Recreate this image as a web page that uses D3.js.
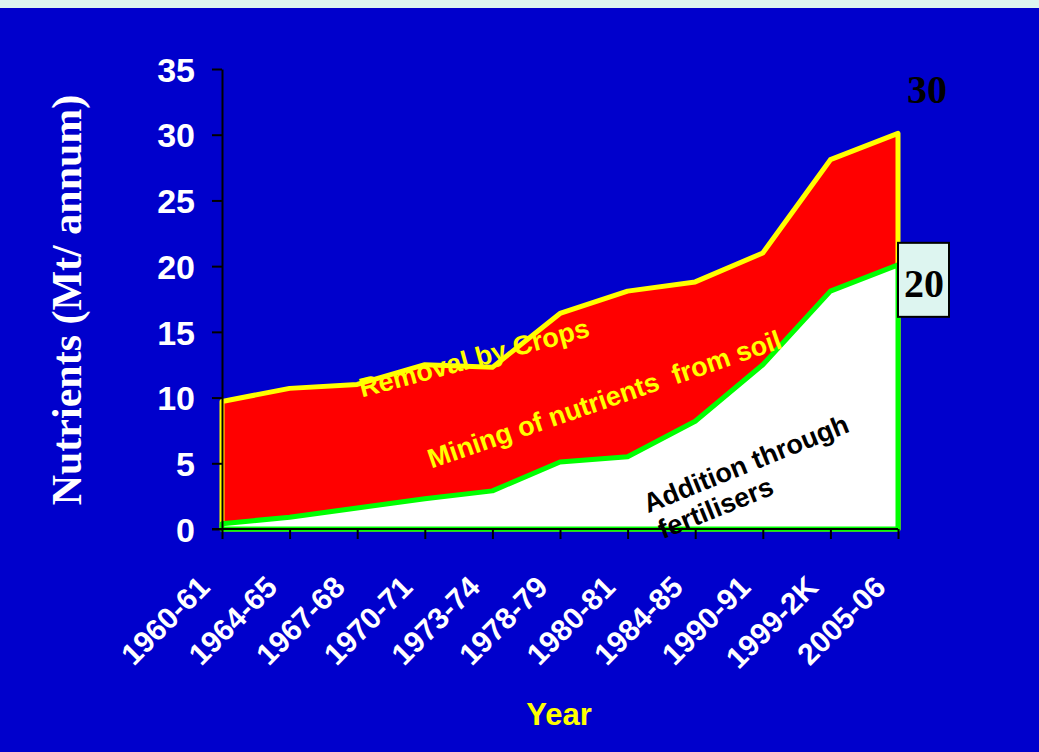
<!DOCTYPE html>
<html>
<head>
<meta charset="utf-8">
<script src="https://cdn.jsdelivr.net/npm/d3@7"></script>
<style>
  body { margin: 0; background: #0000cc; }
  svg { display: block; }
</style>
</head>
<body>
<div id="chart"></div>
<script>
// Data
const years = ["1960-61", "1964-65", "1967-68", "1970-71", "1973-74", "1978-79",
  "1980-81", "1984-85", "1990-91", "1999-2K", "2005-06"];
const removal = [9.7, 10.7, 11.0, 12.5, 12.3, 16.4, 18.1, 18.8, 21.0, 28.1, 30.1];
const fertiliser = [0.4, 0.9, 1.6, 2.3, 2.9, 5.1, 5.5, 8.2, 12.5, 18.1, 20.1];
const yTicks = [0, 5, 10, 15, 20, 25, 30, 35];

const width = 1039, height = 752;

let svg = d3.select("#chart").append("svg")
  .attr("width", width)
  .attr("height", height);

// background + light strip at the top
svg.append("rect")
  .attr("width", width).attr("height", height)
  .attr("fill", "#0000cc");
svg.append("rect")
  .attr("width", width).attr("height", 8)
  .attr("fill", "#ddf5f0");

// Scales
let x = d3.scalePoint()
  .domain(years)
  .range([222, 898]);

let xi = d3.scaleLinear()
  .domain([0, years.length - 1])
  .range([222, 898]);

let y = d3.scaleLinear()
  .domain([0, 35])
  .range([529, 69]);

// Removal by crops (red with yellow border)
let areaTop = d3.area()
  .x((d, i) => x(years[i]))
  .y0(y(0))
  .y1(d => y(d));

svg.append("path")
  .datum(removal)
  .attr("d", areaTop)
  .attr("fill", "#ff0000")
  .attr("stroke", "#ffff00")
  .attr("stroke-width", 5)
  .attr("stroke-linejoin", "round");

// Addition through fertilisers (white with green border)
svg.append("path")
  .datum(fertiliser)
  .attr("d", areaTop)
  .attr("fill", "#ffffff")
  .attr("stroke", "#00ff00")
  .attr("stroke-width", 5)
  .attr("stroke-linejoin", "round");

// Axes
let yAxis = svg.append("g")
  .attr("transform", "translate(222,0)")
  .call(d3.axisLeft(y).tickValues(yTicks).tickSize(10).tickSizeOuter(0).tickPadding(17));

yAxis.select(".domain").attr("stroke", "#000").attr("stroke-width", 2);
yAxis.selectAll(".tick line").attr("stroke", "#000").attr("stroke-width", 2);
yAxis.selectAll(".tick text")
  .attr("fill", "#fff")
  .attr("dy", "0.36em")
  .style("font-family", "Arial, 'Liberation Sans', sans-serif")
  .style("font-weight", "bold")
  .style("font-size", "34px");

let xAxis = svg.append("g")
  .attr("transform", "translate(0," + y(0) + ")")
  .call(d3.axisBottom(x).tickSize(10).tickSizeOuter(0));

xAxis.select(".domain")
  .attr("stroke", "#000").attr("stroke-width", 2)
  .attr("d", "M212,0H898");
xAxis.selectAll(".tick line").attr("stroke", "#000").attr("stroke-width", 2);
xAxis.selectAll(".tick text")
  .attr("fill", "#fff")
  .attr("x", 0).attr("y", 0).attr("dy", 0)
  .attr("text-anchor", "end")
  .attr("transform", "translate(-11,60) rotate(-45)")
  .style("font-family", "Arial, 'Liberation Sans', sans-serif")
  .style("font-weight", "bold")
  .style("font-size", "30px");

// Axis titles
svg.append("text")
  .attr("transform", "translate(81,300) rotate(-90)")
  .attr("text-anchor", "middle")
  .attr("fill", "#fff")
  .style("font-family", "'Times New Roman', 'Liberation Serif', serif")
  .style("font-weight", "bold")
  .style("font-size", "42px")
  .text("Nutrients (Mt/ annum)");

svg.append("text")
  .attr("x", 559)
  .attr("y", 725)
  .attr("text-anchor", "middle")
  .attr("fill", "#ffff00")
  .style("font-family", "Arial, 'Liberation Sans', sans-serif")
  .style("font-weight", "bold")
  .style("font-size", "31px")
  .text("Year");

// Series annotations inside the chart
function note(idx, val, angle, color, lines) {
  let t = svg.append("text")
    .attr("transform", "translate(" + xi(idx) + "," + y(val) + ") rotate(" + angle + ")")
    .attr("fill", color)
    .style("font-family", "Arial, 'Liberation Sans', sans-serif")
    .style("font-weight", "bold")
    .style("font-size", "27px");
  lines.forEach((l, i) => {
    t.append("tspan")
      .attr("x", i == 0 ? 0 : 4)
      .attr("dy", i == 0 ? 0 : "1.1em")
      .text(l);
  });
}

note(2.07, 10.0, -15, "#ffff00", ["Removal by Crops"]);
note(3.1, 4.6, -19, "#ffff00", ["Mining of nutrients\u00a0 from soil"]);
note(6.3, 1.2, -22, "#000000", ["Addition through", "fertilisers"]);

// End value labels
let last = years.length - 1;

svg.append("text")
  .attr("x", x(years[last]) + 29)
  .attr("y", y(removal[last]) - 30)
  .attr("text-anchor", "middle")
  .attr("fill", "#000")
  .style("font-family", "'Times New Roman', 'Liberation Serif', serif")
  .style("font-weight", "bold")
  .style("font-size", "40px")
  .text("30");

svg.append("rect")
  .attr("x", x(years[last]))
  .attr("y", y(fertiliser[last]) - 22)
  .attr("width", 51)
  .attr("height", 74)
  .attr("fill", "#ddf5f0")
  .attr("stroke", "#000")
  .attr("stroke-width", 2);

svg.append("text")
  .attr("x", x(years[last]) + 26)
  .attr("y", y(fertiliser[last]) + 32)
  .attr("text-anchor", "middle")
  .attr("fill", "#000")
  .style("font-family", "'Times New Roman', 'Liberation Serif', serif")
  .style("font-weight", "bold")
  .style("font-size", "40px")
  .text("20");
</script>
</body>
</html>
